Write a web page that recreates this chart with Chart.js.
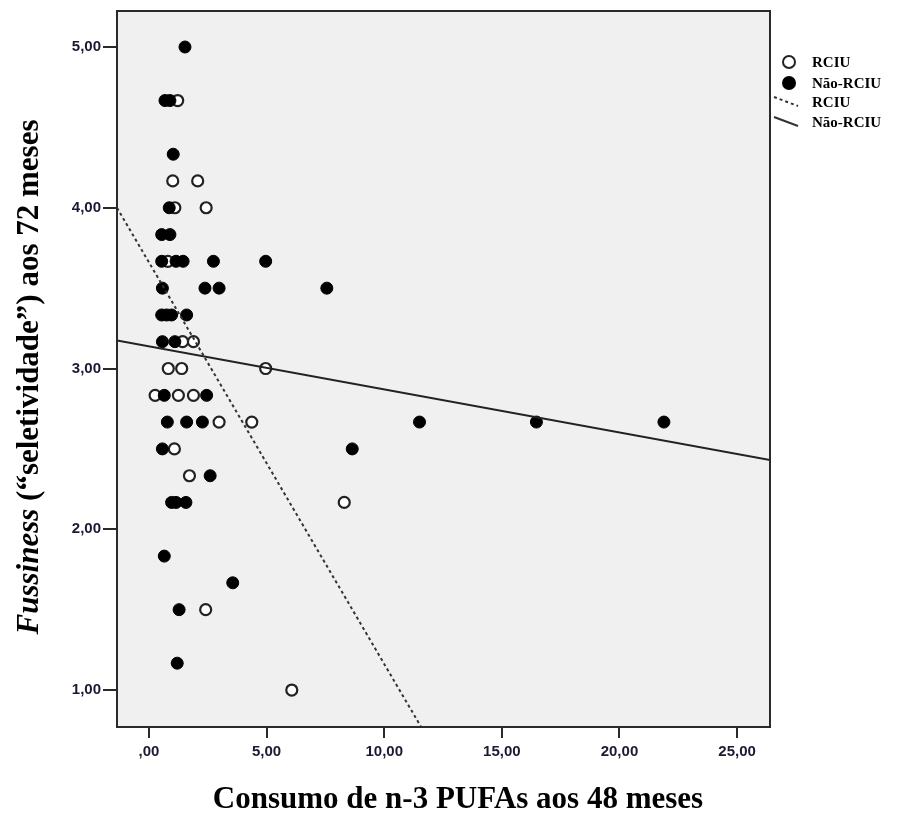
<!DOCTYPE html>
<html><head><meta charset="utf-8">
<script src="https://cdn.jsdelivr.net/npm/chart.js@4/dist/chart.umd.min.js"></script>
<style>html,body{margin:0;padding:0;background:#fff}#wrap{width:897px;height:818px;position:relative}</style>
</head><body><div id="wrap"><canvas id="c" width="897" height="818"></canvas></div>
<script>
// ---- data ----
const rciuX = [1.22, 1.01, 2.07, 1.10, 2.43, 0.80, 1.43, 1.89, 0.82, 1.39, 4.96, 0.26, 1.25, 1.89, 2.98, 4.37, 1.08, 1.72, 8.30, 2.41, 6.07];
const rciuY = [4.667, 4.167, 4.167, 4.0, 4.0, 3.667, 3.167, 3.167, 3.0, 3.0, 3.0, 2.833, 2.833, 2.833, 2.667, 2.667, 2.5, 2.333, 2.167, 1.5, 1.0];
const naoX = [1.53, 0.68, 0.89, 1.03, 0.86, 0.54, 0.89, 0.54, 1.15, 1.45, 2.74, 4.96, 0.57, 2.38, 2.98, 7.56, 0.54, 0.75, 0.96, 1.60, 0.57, 1.10, 0.65, 2.45, 0.78, 1.60, 2.27, 11.50, 16.47, 21.89, 0.57, 8.64, 2.60, 0.96, 1.15, 1.57, 0.65, 3.56, 1.28, 1.20];
const naoY = [5.0, 4.667, 4.667, 4.333, 4.0, 3.833, 3.833, 3.667, 3.667, 3.667, 3.667, 3.667, 3.5, 3.5, 3.5, 3.5, 3.333, 3.333, 3.333, 3.333, 3.167, 3.167, 2.833, 2.833, 2.667, 2.667, 2.667, 2.667, 2.667, 2.667, 2.5, 2.5, 2.333, 2.167, 2.167, 2.167, 1.833, 1.667, 1.5, 1.167];
// linear fit lines (intercept, slope)
const rciuFit = {intercept: 3.66, slope: -0.2498};
const naoFit = {intercept: 3.138, slope: -0.0268};
const xTicks = [0, 5, 10, 15, 20, 25];
const yTicks = [1, 2, 3, 4, 5];
const xRange = [-1.36, 26.4];
const yRange = [0.77, 5.224];
const legendLabels = ['RCIU', 'Não-RCIU', 'RCIU', 'Não-RCIU'];
const xTitle = 'Consumo de n-3 PUFAs aos 48 meses';
const yTitleItalic = 'Fussiness';
const yTitleRest = ' (“seletividade”) aos 72 meses';

const pts = (xs, ys) => xs.map((x, i) => ({x, y: ys[i]}));
const fitLine = f => xRange.map(x => ({x, y: f.intercept + f.slope * x}));
const fmt = v => (v === 0 ? ',00' : v.toFixed(2).replace('.', ','));

const AXIS = '#2a2a2a';
const tickFont = {family: 'Liberation Sans', weight: 'bold', size: 15};

const deco = {
  id: 'deco',
  beforeDraw(chart) {
    const {ctx, chartArea: a} = chart;
    ctx.save();
    ctx.fillStyle = '#f0f0f0';
    ctx.fillRect(a.left, a.top, a.right - a.left, a.bottom - a.top);
    ctx.restore();
  },
  afterDraw(chart) {
    const {ctx, chartArea: a} = chart;
    ctx.save();
    // frame
    ctx.strokeStyle = AXIS; ctx.lineWidth = 2;
    ctx.strokeRect(a.left, a.top, a.right - a.left, a.bottom - a.top);
    // x title
    ctx.fillStyle = '#000';
    ctx.font = 'bold 31px "Liberation Serif"';
    ctx.textAlign = 'center'; ctx.textBaseline = 'middle';
    ctx.fillText(xTitle, 458, 800);
    // y title (rotated, mixed italic)
    ctx.translate(30, 377);
    ctx.rotate(-Math.PI / 2);
    ctx.textAlign = 'left';
    const fI = 'italic bold 31px "Liberation Serif"', fN = 'bold 31px "Liberation Serif"';
    ctx.font = fI; const w1 = ctx.measureText(yTitleItalic).width;
    ctx.font = fN; const w2 = ctx.measureText(yTitleRest).width;
    let sx = -(w1 + w2) / 2;
    ctx.font = fI; ctx.fillText(yTitleItalic, sx, 0);
    ctx.font = fN; ctx.fillText(yTitleRest, sx + w1, 0);
    ctx.restore();
    // legend
    ctx.save();
    const lx = 789, tx = 812, rows = [62, 83, 102, 122];
    ctx.font = 'bold 15px "Liberation Serif"';
    ctx.fillStyle = '#000'; ctx.textBaseline = 'middle'; ctx.textAlign = 'left';
    legendLabels.forEach((t, i) => ctx.fillText(t, tx, rows[i] + 1));
    ctx.beginPath(); ctx.arc(lx, rows[0], 6, 0, Math.PI * 2);
    ctx.fillStyle = '#fff'; ctx.fill(); ctx.lineWidth = 2; ctx.strokeStyle = '#222'; ctx.stroke();
    ctx.beginPath(); ctx.arc(lx, rows[1], 7, 0, Math.PI * 2);
    ctx.fillStyle = '#000'; ctx.fill();
    ctx.lineWidth = 2; ctx.strokeStyle = '#333';
    ctx.setLineDash([3, 3]);
    ctx.beginPath(); ctx.moveTo(774, rows[2] - 5); ctx.lineTo(798, rows[2] + 4); ctx.stroke();
    ctx.setLineDash([]);
    ctx.beginPath(); ctx.moveTo(774, rows[3] - 5); ctx.lineTo(798, rows[3] + 4); ctx.stroke();
    ctx.restore();
  }
};

new Chart(document.getElementById('c').getContext('2d'), {
  type: 'scatter',
  data: {datasets: [
    {label: 'RCIU (ajuste)', type: 'line', data: fitLine(rciuFit), borderColor: '#333', borderWidth: 2, borderDash: [3, 3], pointRadius: 0, fill: false, order: 0},
    {label: 'Não-RCIU (ajuste)', type: 'line', data: fitLine(naoFit), borderColor: '#222', borderWidth: 1.9, pointRadius: 0, fill: false, order: 0},
    {label: 'Não-RCIU', data: pts(naoX, naoY), backgroundColor: '#000', borderColor: '#000', borderWidth: 1, pointRadius: 6, order: 1},
    {label: 'RCIU', data: pts(rciuX, rciuY), backgroundColor: '#fff', borderColor: '#222', borderWidth: 2.2, pointRadius: 5.5, order: 2}
  ]},
  options: {
    responsive: false, animation: false, devicePixelRatio: 1,
    layout: {padding: {left: 0, top: 10, right: 127, bottom: 0}},
    plugins: {legend: {display: false}, tooltip: {enabled: false}},
    scales: {
      x: {
        type: 'linear', min: xRange[0], max: xRange[1],
        afterBuildTicks: s => { s.ticks = xTicks.map(v => ({value: v})); },
        afterFit: s => { s.height = 91; },
        grid: {display: true, drawOnChartArea: false, drawTicks: true, tickLength: 11, color: AXIS, lineWidth: 2},
        border: {display: true, color: AXIS, width: 2},
        ticks: {callback: fmt, font: tickFont, color: '#1a1a33', padding: 5, maxRotation: 0, autoSkip: false}
      },
      y: {
        type: 'linear', min: yRange[0], max: yRange[1],
        afterBuildTicks: s => { s.ticks = yTicks.map(v => ({value: v})); },
        afterFit: s => { s.width = 117; },
        grid: {display: true, drawOnChartArea: false, drawTicks: true, tickLength: 14, color: AXIS, lineWidth: 2},
        border: {display: true, color: AXIS, width: 2},
        ticks: {callback: fmt, font: tickFont, color: '#1a1a33', padding: 2, autoSkip: false}
      }
    }
  },
  plugins: [deco]
});
</script></body></html>
